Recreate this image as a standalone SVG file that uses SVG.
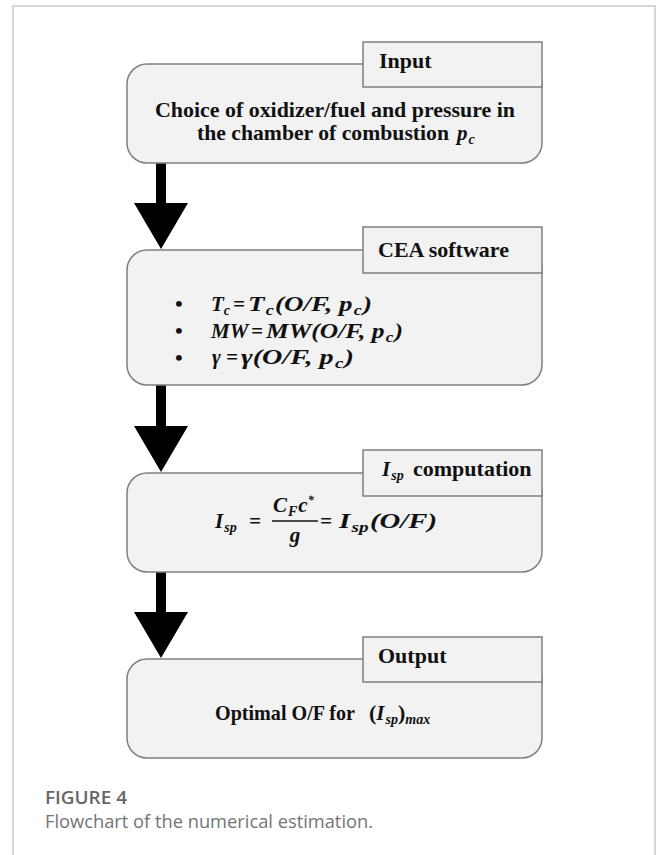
<svg xmlns="http://www.w3.org/2000/svg" width="656" height="855" viewBox="0 0 656 855">
<style>
.box{fill:#f2f2f2;stroke:#7f7f7f;stroke-width:1.5}
.t{font-family:"Liberation Serif",serif;font-weight:bold;font-size:22px;fill:#111}
.m{font-family:"Liberation Serif",serif;font-weight:bold;font-style:italic;font-size:21px;fill:#111}
.s{font-size:14px}
.cap{font-family:"Open Sans","Noto Sans",sans-serif;font-size:18.5px}
.arr{fill:#000}
</style>
<rect x="13" y="6" width="642" height="860" fill="#fff" stroke="#c8c8c8" stroke-width="1.5"/>
<g id="connectors">
<path class="arr" d="M156 163H166V203H188L161 249L134 203H156Z"/>
<path class="arr" d="M156 385H166V426H188L161 472L134 426H156Z"/>
<path class="arr" d="M156 572H166V612H188L161 658L134 612H156Z"/>
</g>
<g id="input">
<rect class="box" x="127" y="64" width="415" height="99" rx="20"/>
<rect class="box" x="363" y="42" width="179" height="45"/>
<text class="t" x="379" y="68">Input</text>
<text class="t" x="155" y="117" textLength="360" lengthAdjust="spacingAndGlyphs">Choice of oxidizer/fuel and pressure in</text>
<text class="t" x="197" y="140" textLength="252" lengthAdjust="spacingAndGlyphs">the chamber of combustion</text>
<text class="m" x="457" y="140">p<tspan class="s" dx="1" dy="4">c</tspan></text>
</g>
<g id="cea">
<rect class="box" x="127" y="250" width="415" height="135" rx="20"/>
<rect class="box" x="363" y="227" width="179" height="46"/>
<text class="t" x="378" y="257">CEA software</text>
<g class="t" font-size="20"><text x="175" y="311">•</text><text x="175" y="338">•</text><text x="175" y="365">•</text></g>
<text class="m" x="211" y="311">T<tspan class="s" dy="4">c</tspan></text>
<text class="m" x="233" y="311">=</text>
<text class="m" x="248" y="311" textLength="124" lengthAdjust="spacingAndGlyphs">T<tspan class="s" dx="1" dy="4">c</tspan><tspan dx="1" dy="-4">(O/F, p</tspan><tspan class="s" dx="1" dy="4">c</tspan><tspan dx="1" dy="-4">)</tspan></text>
<text class="m" x="211" y="338">MW</text>
<text class="m" x="251" y="338">=</text>
<text class="m" x="266" y="338" textLength="137" lengthAdjust="spacingAndGlyphs">MW(O/F, p<tspan class="s" dx="1" dy="4">c</tspan><tspan dx="1" dy="-4">)</tspan></text>
<text class="m" x="212" y="364">γ</text>
<text class="m" x="226" y="364">=</text>
<text class="m" x="241" y="364" textLength="113" lengthAdjust="spacingAndGlyphs">γ(O/F, p<tspan class="s" dx="1" dy="4">c</tspan><tspan dx="1" dy="-4">)</tspan></text>
</g>
<g id="isp">
<rect class="box" x="127" y="473" width="415" height="99" rx="20"/>
<rect class="box" x="363" y="450" width="179" height="46"/>
<text class="m" x="382" y="476">I<tspan class="s" dx="1" dy="4">sp</tspan></text>
<text class="t" x="413" y="476">computation</text>
<text class="m" x="215" y="528">I<tspan class="s" dx="1" dy="4">sp</tspan></text>
<text class="m" x="249" y="528">=</text>
<text class="m" x="273" y="512">C<tspan class="s" dx="1" dy="4">F</tspan><tspan dx="1" dy="-4">c</tspan><tspan font-size="12" dy="-8">*</tspan></text>
<line x1="272" y1="521" x2="318" y2="521" stroke="#111" stroke-width="1.5"/>
<text class="m" x="295" y="542" text-anchor="middle">g</text>
<text class="m" x="320" y="528">=</text>
<text class="m" x="339" y="528" textLength="98" lengthAdjust="spacingAndGlyphs">I<tspan class="s" dx="1" dy="4">sp</tspan><tspan dx="1" dy="-4">(O/F)</tspan></text>
</g>
<g id="output">
<rect class="box" x="127" y="659" width="415" height="99" rx="20"/>
<rect class="box" x="363" y="637" width="179" height="45"/>
<text class="t" x="378" y="663">Output</text>
<text class="t" x="215" y="720" textLength="140" lengthAdjust="spacingAndGlyphs">Optimal O/F for</text>
<text class="t" x="369" y="720" font-weight="normal">(<tspan class="m" font-weight="normal">I</tspan><tspan class="m s" font-weight="normal" dx="1" dy="4">sp</tspan><tspan dy="-4">)</tspan><tspan class="m s" font-weight="normal" dy="4">max</tspan></text>
</g>
<text class="cap" x="45" y="804" font-weight="600" fill="#666" textLength="82" lengthAdjust="spacingAndGlyphs">FIGURE 4</text>
<text class="cap" x="45" y="828" fill="#747474" textLength="328" lengthAdjust="spacingAndGlyphs">Flowchart of the numerical estimation.</text>
</svg>
